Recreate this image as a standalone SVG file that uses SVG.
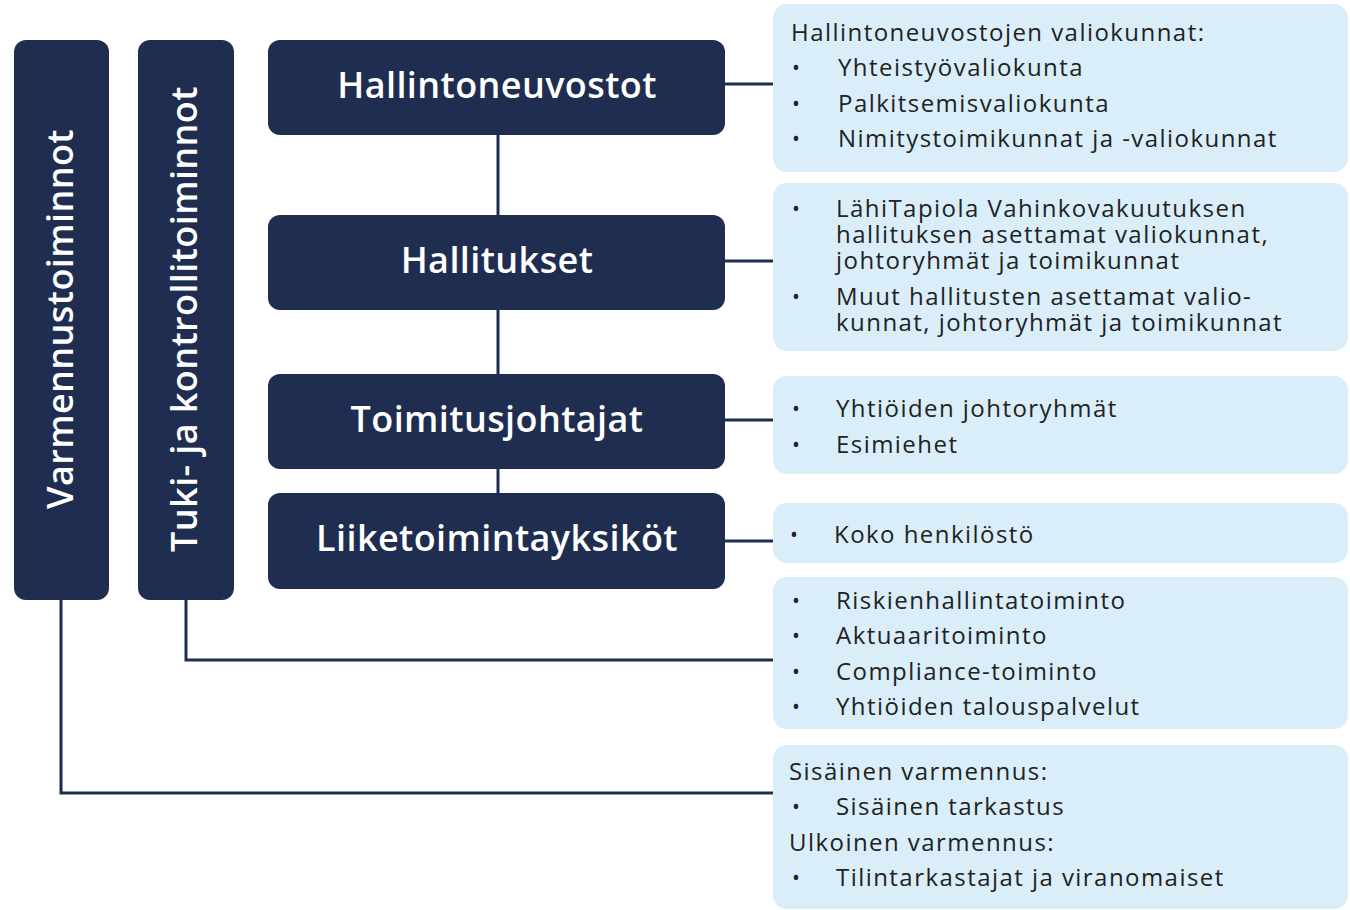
<svg xmlns="http://www.w3.org/2000/svg" width="1350" height="910" viewBox="0 0 1350 910">
<style>
.nav{fill:#1e2d50}
.lb{fill:#d9eef9}
.h{font-family:"Open Sans","Noto Sans",sans-serif;font-weight:600;font-size:36px;fill:#ffffff;text-anchor:middle;letter-spacing:0.4px}
.t{font-family:"Open Sans","Noto Sans",sans-serif;font-size:24px;fill:#222222;letter-spacing:1.45px}
.b{font-family:"Open Sans","Noto Sans",sans-serif;font-size:21px;fill:#222222}
.c{fill:none;stroke:#1e2d50;stroke-width:3}
</style>
<rect width="1350" height="910" fill="#ffffff"/>
<g id="connectors">
<path class="c" d="M498 135V493"/>
<path class="c" d="M725 84H773"/>
<path class="c" d="M725 261H773"/>
<path class="c" d="M725 420H773"/>
<path class="c" d="M725 541H773"/>
<path class="c" d="M186 600V660H773"/>
<path class="c" d="M61 600V793H773"/>
</g>
<g id="varmennustoiminnot">
<rect class="nav" x="14" y="40" width="95" height="560" rx="12"/>
<text class="h" transform="translate(73 319) rotate(-90)">Varmennustoiminnot</text>
</g>
<g id="tuki">
<rect class="nav" x="138" y="40" width="96" height="560" rx="12"/>
<text class="h" transform="translate(197 319) rotate(-90)">Tuki- ja kontrollitoiminnot</text>
</g>
<g id="hallintoneuvostot">
<rect class="nav" x="268" y="40" width="457" height="95" rx="12"/>
<text class="h" x="497" y="98">Hallintoneuvostot</text>
</g>
<g id="hallitukset">
<rect class="nav" x="268" y="215" width="457" height="95" rx="12"/>
<text class="h" x="497" y="273">Hallitukset</text>
</g>
<g id="toimitusjohtajat">
<rect class="nav" x="268" y="374" width="457" height="95" rx="12"/>
<text class="h" x="497" y="432">Toimitusjohtajat</text>
</g>
<g id="liiketoimintayksikot">
<rect class="nav" x="268" y="493" width="457" height="96" rx="12"/>
<text class="h" x="497" y="551">Liiketoimintayksiköt</text>
</g>
<g id="box1">
<rect class="lb" x="773" y="4" width="575" height="168" rx="14"/>
<text class="t" x="791" y="41">Hallintoneuvostojen valiokunnat:</text>
<text class="b" x="792" y="75">•</text><text class="t" x="838" y="76">Yhteistyövaliokunta</text>
<text class="b" x="792" y="111">•</text><text class="t" x="838" y="112">Palkitsemisvaliokunta</text>
<text class="b" x="792" y="146">•</text><text class="t" x="838" y="147">Nimitystoimikunnat ja -valiokunnat</text>
</g>
<g id="box2">
<rect class="lb" x="773" y="183" width="575" height="168" rx="14"/>
<text class="b" x="792" y="216">•</text><text class="t" x="836" y="217">LähiTapiola Vahinkovakuutuksen</text>
<text class="t" x="836" y="243">hallituksen asettamat valiokunnat,</text>
<text class="t" x="836" y="269">johtoryhmät ja toimikunnat</text>
<text class="b" x="792" y="304">•</text><text class="t" x="836" y="305">Muut hallitusten asettamat valio-</text>
<text class="t" x="836" y="331">kunnat, johtoryhmät ja toimikunnat</text>
</g>
<g id="box3">
<rect class="lb" x="773" y="376" width="575" height="98" rx="14"/>
<text class="b" x="792" y="416">•</text><text class="t" x="836" y="417">Yhtiöiden johtoryhmät</text>
<text class="b" x="792" y="452">•</text><text class="t" x="836" y="453">Esimiehet</text>
</g>
<g id="box4">
<rect class="lb" x="773" y="503" width="575" height="60" rx="14"/>
<text class="b" x="790" y="542">•</text><text class="t" x="834" y="543">Koko henkilöstö</text>
</g>
<g id="box5">
<rect class="lb" x="773" y="577" width="575" height="152" rx="14"/>
<text class="b" x="792" y="608">•</text><text class="t" x="836" y="609">Riskienhallintatoiminto</text>
<text class="b" x="792" y="643">•</text><text class="t" x="836" y="644">Aktuaaritoiminto</text>
<text class="b" x="792" y="679">•</text><text class="t" x="836" y="680">Compliance-toiminto</text>
<text class="b" x="792" y="714">•</text><text class="t" x="836" y="715">Yhtiöiden talouspalvelut</text>
</g>
<g id="box6">
<rect class="lb" x="773" y="745" width="575" height="164" rx="14"/>
<text class="t" x="789" y="780">Sisäinen varmennus:</text>
<text class="b" x="792" y="814">•</text><text class="t" x="836" y="815">Sisäinen tarkastus</text>
<text class="t" x="789" y="851">Ulkoinen varmennus:</text>
<text class="b" x="792" y="885">•</text><text class="t" x="836" y="886">Tilintarkastajat ja viranomaiset</text>
</g>
</svg>
